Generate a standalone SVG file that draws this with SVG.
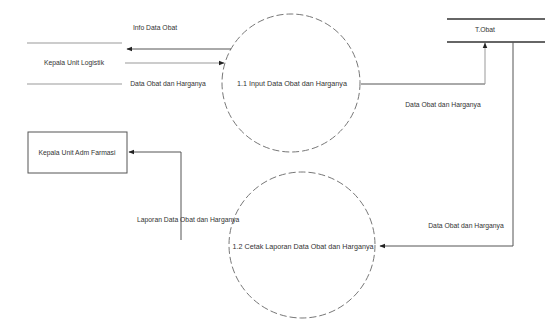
<svg xmlns="http://www.w3.org/2000/svg" width="545" height="320" viewBox="0 0 545 320">
<defs>
<style>
text{font-family:"Liberation Sans",Arial,sans-serif;font-size:6.8px;fill:#333;}
.c{text-anchor:middle;}
.pt{font-size:7.2px;}
.ln{fill:none;stroke:#555;stroke-width:1;}
.lt{fill:none;stroke:#999;stroke-width:1;}
.proc{fill:#fff;stroke:#777;stroke-width:1;stroke-dasharray:7 3;}
.ds{stroke:#333;stroke-width:1.6;}
</style>
<marker id="ah" viewBox="0 0 10 10" refX="9" refY="5" markerWidth="6" markerHeight="6" orient="auto">
<path d="M0 1 L10 5 L0 9 Z" fill="#222"/>
</marker>
</defs>
<rect width="545" height="320" fill="#fff"/>

<g id="entity-logistik">
<line class="lt" x1="27" y1="43" x2="122" y2="43"/>
<line class="lt" x1="27" y1="84" x2="122" y2="84"/>
<text class="c" x="74" y="65">Kepala Unit Logistik</text>
</g>

<g id="entity-farmasi">
<rect x="28" y="132" width="99" height="41" fill="#fff" stroke="#555" stroke-width="1"/>
<text class="c" x="77" y="155">Kepala Unit Adm Farmasi</text>
</g>

<g id="proc-1-1">
<circle class="proc" cx="291" cy="83" r="69"/>
<text class="c pt" x="292" y="86">1.1 Input Data Obat dan Harganya</text>
</g>

<g id="proc-1-2">
<circle class="proc" cx="302" cy="245" r="73"/>
<text class="c pt" x="303" y="249">1.2 Cetak Laporan Data Obat dan Harganya</text>
</g>

<g id="store-tobat">
<line class="ds" x1="447" y1="19" x2="545" y2="19"/>
<line class="ds" x1="447" y1="42" x2="545" y2="42"/>
<text class="c" x="485" y="32">T.Obat</text>
</g>

<g id="connectors">
<line class="ln" x1="231" y1="49" x2="127" y2="49" marker-end="url(#ah)"/>
<text class="c" x="155" y="30">Info Data Obat</text>

<line class="lt" x1="125" y1="63" x2="224" y2="63" marker-end="url(#ah)"/>
<text class="c" x="168" y="86">Data Obat dan Harganya</text>

<path class="ln" d="M361 84 L485 84"/>
<path class="lt" d="M485 84 L485 43" marker-end="url(#ah)"/>
<text class="c" x="443" y="107">Data Obat dan Harganya</text>

<path class="ln" d="M513 42 L513 246 L380 246" marker-end="url(#ah)"/>
<text class="c" x="466" y="228">Data Obat dan Harganya</text>

<path class="ln" d="M181 240 L181 152 L129 152" marker-end="url(#ah)"/>
<text x="137" y="222">Laporan Data Obat dan Harganya</text>
</g>
</svg>
